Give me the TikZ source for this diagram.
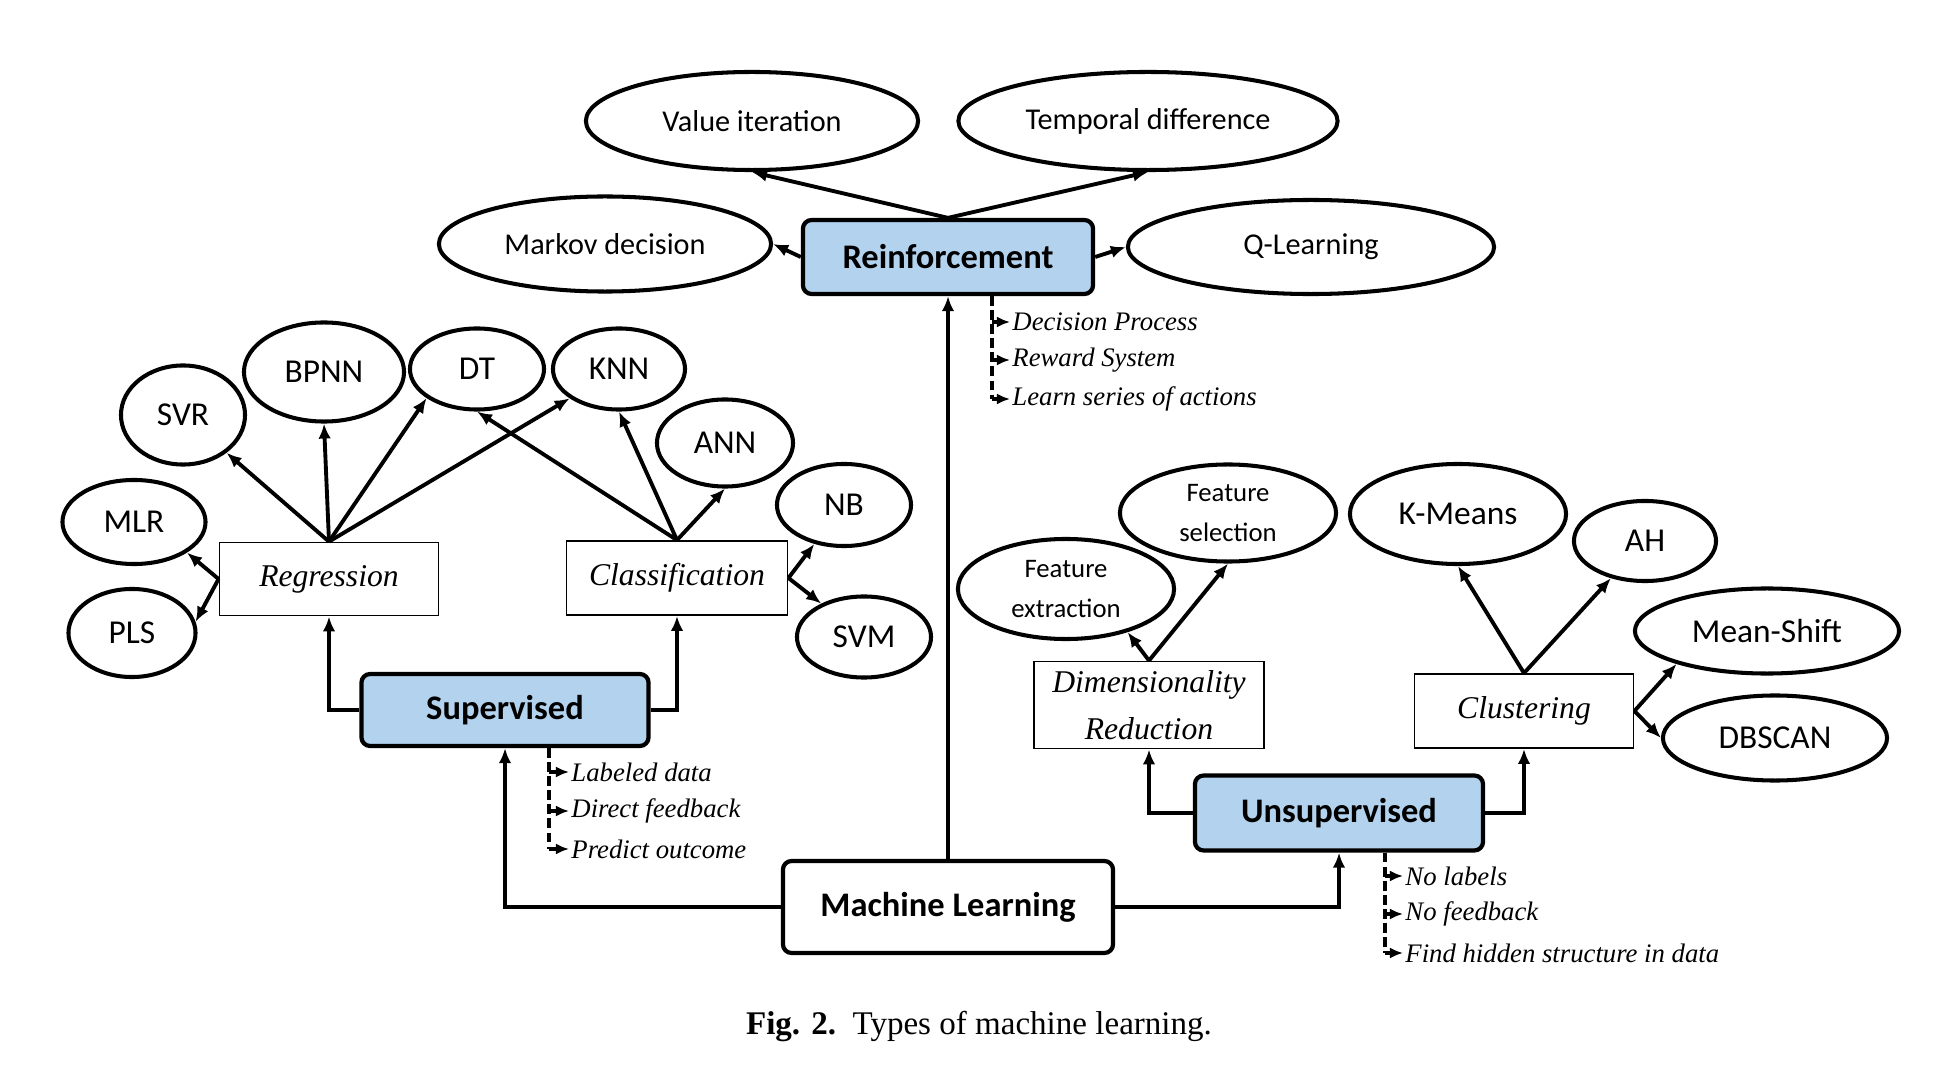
\documentclass[tikz,border=0pt]{standalone}
\usepackage{fontspec}
\setmainfont{Liberation Serif}
\setsansfont{Carlito}
\usepackage{tikz}
\usetikzlibrary{shapes.geometric, arrows.meta, positioning, calc}
\usepackage{xcolor}
\definecolor{mlblue}{RGB}{178,210,238}
\definecolor{mlblack}{RGB}{0,0,0}

\begin{document}
\begin{tikzpicture}[
    x=0.01cm, y=-0.01cm,
    mlbox/.style={rectangle, draw=mlblack, fill=white, line width=1.2pt, rounded corners=2.5pt, inner sep=0pt, font=\sffamily\bfseries\fontsize{9.8}{11}\selectfont},
    typebox/.style={mlbox, fill=mlblue},
    subbox/.style={rectangle, draw=mlblack, line width=0.5pt, inner sep=0pt, align=center, font=\rmfamily\itshape\fontsize{9}{13.4}\selectfont},
    algo/.style={ellipse, draw=mlblack, line width=1.15pt, inner sep=0pt, align=center, font=\sffamily\fontsize{9.5}{11}\selectfont},
    bigalgo/.style={algo, font=\sffamily\fontsize{8.6}{10}\selectfont},
    featalgo/.style={algo, font=\sffamily\fontsize{7.6}{11.3}\selectfont},
    arrow/.style={-{Latex[length=1.5mm, width=1.25mm]}, line width=1.1pt},
    notetip/.style={-{Latex[length=1.3mm, width=1.1mm]}, line width=1.1pt},
    notedash/.style={line width=1.1pt, dash pattern=on 2.8pt off 1.2pt},
    note/.style={anchor=west, inner sep=0.5pt, font=\rmfamily\itshape\fontsize{7.6}{9}\selectfont}
]
\useasboundingbox (0,0) rectangle (1956,1088);

% Learning types
\node[mlbox, minimum width=3.30cm, minimum height=0.92cm] (ml) at (948,907) {Machine Learning};
\node[typebox, minimum width=2.90cm, minimum height=0.74cm] (reinf) at (948,257) {Reinforcement};
\node[typebox, minimum width=2.87cm, minimum height=0.72cm] (sup) at (505,710) {Supervised};
\node[typebox, minimum width=2.88cm, minimum height=0.75cm] (unsup) at (1339,813) {Unsupervised};

% Tasks
\node[subbox, minimum width=2.19cm, minimum height=0.73cm] (reg) at (329,579) {Regression};
\node[subbox, minimum width=2.21cm, minimum height=0.74cm] (cls) at (677,578) {Classification};
\node[subbox, minimum width=2.30cm, minimum height=0.87cm] (dr) at (1149,705) {Dimensionality\\Reduction};
\node[subbox, minimum width=2.19cm, minimum height=0.74cm] (clu) at (1524,711) {Clustering};

% Reinforcement methods
\node[bigalgo, minimum width=3.32cm, minimum height=0.98cm] (vi) at (752,121) {Value iteration};
\node[bigalgo, minimum width=3.79cm, minimum height=0.98cm] (td) at (1148,121) {Temporal difference};
\node[bigalgo, minimum width=3.32cm, minimum height=0.95cm] (markov) at (605,244) {Markov decision};
\node[bigalgo, minimum width=3.66cm, minimum height=0.94cm] (ql) at (1311,247) {Q-Learning};

% Supervised methods
\node[algo, minimum width=1.24cm, minimum height=0.99cm] (svr) at (183,415) {SVR};
\node[algo, minimum width=1.60cm, minimum height=0.99cm] (bpnn) at (324,372) {BPNN};
\node[algo, minimum width=1.34cm, minimum height=0.81cm] (dt) at (477,369) {DT};
\node[algo, minimum width=1.32cm, minimum height=0.81cm] (knn) at (619,369) {KNN};
\node[algo, minimum width=1.36cm, minimum height=0.87cm] (ann) at (725,443) {ANN};
\node[algo, minimum width=1.34cm, minimum height=0.82cm] (nb) at (844,505) {NB};
\node[algo, minimum width=1.34cm, minimum height=0.81cm] (svm) at (864,637) {SVM};
\node[algo, minimum width=1.43cm, minimum height=0.84cm] (mlr) at (134,522) {MLR};
\node[algo, minimum width=1.27cm, minimum height=0.88cm] (pls) at (132,633) {PLS};

% Unsupervised methods
\node[featalgo, minimum width=2.16cm, minimum height=1.00cm] (fe) at (1066,589) {Feature\\extraction};
\node[featalgo, minimum width=2.16cm, minimum height=0.97cm] (fs) at (1228,513) {Feature\\selection};
\node[algo, minimum width=2.16cm, minimum height=1.00cm] (km) at (1458,514) {K-Means};
\node[algo, minimum width=1.42cm, minimum height=0.80cm] (ah) at (1645,541) {AH};
\node[algo, minimum width=2.64cm, minimum height=0.85cm] (ms) at (1767,631) {Mean-Shift};
\node[algo, minimum width=2.24cm, minimum height=0.85cm] (dbs) at (1775,738) {DBSCAN};

% Notes
\node[note] (rn1) at (1010,322) {Decision Process};
\node[note] (rn2) at (1010,360) {Reward System};
\node[note] (rn3) at (1010,399) {Learn series of actions};
\node[note] (sn1) at (569,772) {Labeled data};
\node[note] (sn2) at (569,811) {Direct feedback};
\node[note] (sn3) at (569,849) {Predict outcome};
\node[note] (un1) at (1403,876) {No labels};
\node[note] (un2) at (1403,914) {No feedback};
\node[note] (un3) at (1403,953) {Find hidden structure in data};
\coordinate (rd) at ([xshift=0.44cm]reinf.south);
\coordinate (sd) at ([xshift=0.44cm]sup.south);
\coordinate (ud) at ([xshift=0.46cm]unsup.south);

% Caption
\node[font=\rmfamily\fontsize{9.4}{11}\selectfont] (cap) at (979,1027) {\textbf{Fig. 2.}\enspace Types of machine learning.};

% Arrows
\draw[arrow] (ml.north) -- (reinf.south);
\draw[arrow] (ml.west) -| (sup.south);
\draw[arrow] (ml.east) -| (unsup.south);
\draw[arrow] (sup.west) -| (reg.south);
\draw[arrow] (sup.east) -| (cls.south);
\draw[arrow] (unsup.west) -| (dr.south);
\draw[arrow] (unsup.east) -| (clu.south);

\draw[arrow] (reinf.north) -- (vi.south);
\draw[arrow] (reinf.north) -- (td.south);
\draw[arrow] (reinf.west) -- (markov.east);
\draw[arrow] (reinf.east) -- (ql.west);

\draw[arrow] (reg.north) -- (svr);
\draw[arrow] (reg.north) -- (bpnn.south);
\draw[arrow] (reg.north) -- (dt.210);
\draw[arrow] (reg.north) -- (knn);
\draw[arrow] (reg.west) -- (mlr.-30);
\draw[arrow] (reg.west) -- (pls.10);
\draw[arrow] (cls.north) -- (dt.south);
\draw[arrow] (cls.north) -- (knn.south);
\draw[arrow] (cls.north) -- (ann.south);
\draw[arrow] (cls.east) -- (nb);
\draw[arrow] (cls.east) -- (svm);

\draw[arrow] (dr.north) -- (fe.-35);
\draw[arrow] (dr.north) -- (fs.south);
\draw[arrow] (clu.north) -- (km.south);
\draw[arrow] (clu.north) -- (ah);
\draw[arrow] (clu.east) -- (ms.200);
\draw[arrow] (clu.east) -- (dbs.west);

% Note lines
\draw[notedash] (rd) -- (rd |- rn3.west);
\draw[notetip] (rd |- rn1.west) -- (rn1.west);
\draw[notetip] (rd |- rn2.west) -- (rn2.west);
\draw[notetip] (rd |- rn3.west) -- (rn3.west);
\draw[notedash] (sd) -- (sd |- sn3.west);
\draw[notetip] (sd |- sn1.west) -- (sn1.west);
\draw[notetip] (sd |- sn2.west) -- (sn2.west);
\draw[notetip] (sd |- sn3.west) -- (sn3.west);
\draw[notedash] (ud) -- (ud |- un3.west);
\draw[notetip] (ud |- un1.west) -- (un1.west);
\draw[notetip] (ud |- un2.west) -- (un2.west);
\draw[notetip] (ud |- un3.west) -- (un3.west);
\end{tikzpicture}
\end{document}
